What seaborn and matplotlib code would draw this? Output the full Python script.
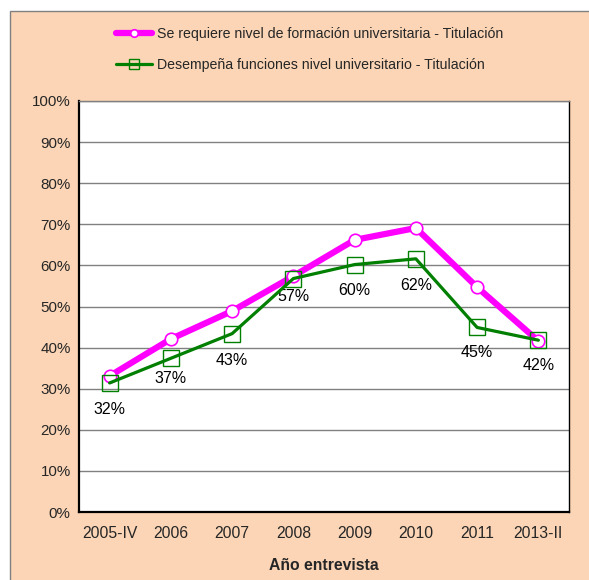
import matplotlib
matplotlib.use('Agg')
import matplotlib.pyplot as plt
import seaborn as sns
import pandas as pd
from matplotlib.patches import Rectangle
from matplotlib.ticker import FixedLocator

# Data
years = ['2005-IV', '2006', '2007', '2008', '2009', '2010', '2011', '2013-II']
requiere = [33.1, 42.1, 48.9, 57.4, 66.2, 69.1, 54.7, 41.6]
desempena = [31.4, 37.4, 43.4, 56.8, 60.2, 61.6, 44.9, 41.8]
labels_desempena = ['32%', '37%', '43%', '57%', '60%', '62%', '45%', '42%']

name_req = 'Se requiere nivel de formación universitaria - Titulación'
name_des = 'Desempeña funciones nivel universitario - Titulación'

df = pd.DataFrame({'pos': range(len(years)), 'req': requiere, 'des': desempena})

sns.set_style('white')
plt.rcParams['font.family'] = ['Liberation Sans', 'DejaVu Sans']

fig = plt.figure(figsize=(5.89, 5.80), dpi=100)
fig.patch.set_facecolor('white')
fig.patches.append(Rectangle((10 / 589, -0.1), 1.2, 1.1 - 11 / 580, transform=fig.transFigure,
                             facecolor='#FBD5B5', edgecolor='#808080', lw=1, zorder=-1))

ax = fig.add_axes([79 / 589, 1 - 512 / 580, 490 / 589, 411 / 580])
ax.set_facecolor('white')

sns.lineplot(data=df, x='pos', y='req', ax=ax, color='#FF00FF', lw=4.5,
             marker='o', markersize=9, markerfacecolor='white',
             markeredgecolor='#FF00FF', markeredgewidth=1.2, label=name_req, zorder=3)
sns.lineplot(data=df, x='pos', y='des', ax=ax, color='#007F00', lw=2.3,
             marker='s', markersize=11, markerfacecolor='none',
             markeredgecolor='#008000', markeredgewidth=1.0, label=name_des, zorder=4)

# labels sit below the green markers
offsets = [-19, -14.5, -19, -13, -19, -19.5, -18, -18.5]
for i, (v, lab) in enumerate(zip(desempena, labels_desempena)):
    ax.annotate(lab, (i, v), xytext=(0, offsets[i]), textcoords='offset points',
                ha='center', va='center', fontsize=11.5, color='black')

ax.set_xlim(-0.5, len(years) - 0.5)
ax.set_ylim(0, 100)
ax.set_yticks(range(0, 101, 10))
ax.set_yticklabels([f'{t}%' for t in range(0, 101, 10)], fontsize=10.9)
ax.set_xticks(range(len(years)))
ax.set_xticklabels(years, fontsize=11.3)
ax.xaxis.set_minor_locator(FixedLocator([i + 0.5 for i in range(len(years) - 1)]))
ax.tick_params(axis='x', which='major', length=0, pad=10)
ax.tick_params(axis='x', which='minor', direction='in', length=4, width=1, color='black')
ax.tick_params(axis='y', length=0, pad=6)
ax.yaxis.grid(True, color='#808080', lw=1)
ax.set_axisbelow(True)
for side in ['left', 'bottom']:
    ax.spines[side].set_color('black')
    ax.spines[side].set_linewidth(1.6)
ax.spines['right'].set_color('black')
ax.spines['right'].set_linewidth(1.0)
ax.spines['top'].set_color('#808080')
ax.spines['top'].set_linewidth(1.0)

ax.set_ylabel('')
ax.set_xlabel('Año entrevista', fontsize=11.3, fontweight='bold', labelpad=12)

handles, labs = ax.get_legend_handles_labels()
ax.get_legend().remove()
fig.legend(handles, labs, loc='upper center', bbox_to_anchor=(0.525, 0.976),
           frameon=False, fontsize=10.2, handlelength=2.6, handletextpad=0.3,
           labelspacing=1.2, markerscale=0.6)

fig.savefig('out.png', dpi=100)
